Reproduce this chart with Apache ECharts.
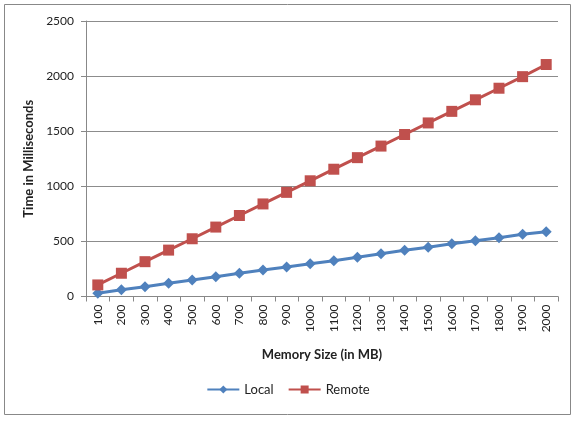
<!DOCTYPE html>
<html>
<head>
<meta charset="utf-8">
<script src="https://cdn.jsdelivr.net/npm/echarts@6/dist/echarts.min.js"></script>
<style>
  html, body { margin: 0; padding: 0; background: #fff; }
  #chart { width: 576px; height: 421px; }
</style>
</head>
<body>
<div id="chart"></div>
<script>
// memory sizes (MB)
var memorySizes = ['100','200','300','400','500','600','700','800','900','1000',
                   '1100','1200','1300','1400','1500','1600','1700','1800','1900','2000'];
// time in ms
var localTimes  = [29, 62, 89, 120, 150, 180, 210, 240, 268, 298,
                   325, 356, 388, 419, 446, 479, 506, 534, 564, 588];
var remoteTimes = [105, 211, 316, 421, 524, 630, 735, 840, 945, 1050,
                   1155, 1260, 1365, 1470, 1575, 1680, 1785, 1890, 1995, 2105];
var yTicks = [0, 500, 1000, 1500, 2000, 2500];

var font = 'Lato, "Open Sans", sans-serif';
var chart = echarts.init(document.getElementById('chart'));
var option = {
    animation: false,
    backgroundColor: '#fff',
    textStyle: { fontFamily: font },
    graphic: [{
        type: 'rect',
        shape: { x: 4.5, y: 4.5, width: 566, height: 410 },
        style: { fill: null, stroke: '#888', lineWidth: 1 },
        silent: true
    }],
    grid: { left: 86, right: 18, top: 21, bottom: 124.5 },
    legend: {
        bottom: 20,
        left: 'center',
        itemWidth: 32,
        itemHeight: 10,
        itemGap: 14,
        textStyle: { fontFamily: font, fontSize: 13, color: '#222' },
        data: ['Local', 'Remote']
    },
    xAxis: {
        type: 'category',
        data: memorySizes,
        boundaryGap: true,
        name: 'Memory Size (in MB)',
        nameLocation: 'middle',
        nameGap: 52,
        nameTextStyle: { fontFamily: font, fontSize: 13, fontWeight: 'bold', color: '#222' },
        axisLine: { lineStyle: { color: '#888' } },
        axisTick: { show: true, alignWithLabel: false, length: 5, lineStyle: { color: '#888' } },
        axisLabel: { rotate: 90, fontFamily: font, fontSize: 12, color: '#222', margin: 8 }
    },
    yAxis: {
        type: 'value',
        min: yTicks[0],
        max: yTicks[yTicks.length - 1],
        interval: 500,
        name: 'Time in Milliseconds',
        nameLocation: 'middle',
        nameGap: 50,
        nameTextStyle: { fontFamily: font, fontSize: 13, fontWeight: 'bold', color: '#222' },
        axisLine: { show: true, lineStyle: { color: '#888' } },
        axisTick: { show: true, length: 5, lineStyle: { color: '#888' } },
        axisLabel: { fontFamily: font, fontSize: 12, color: '#222', margin: 12,
                     formatter: function (v) { return String(v); } },
        splitLine: { lineStyle: { color: '#8c8c8c' } }
    },
    series: [
        {
            name: 'Local',
            type: 'line',
            data: localTimes,
            symbol: 'diamond',
            symbolSize: 11,
            lineStyle: { width: 3, color: '#4F81BD' },
            itemStyle: { color: '#4F81BD' }
        },
        {
            name: 'Remote',
            type: 'line',
            data: remoteTimes,
            symbol: 'rect',
            symbolSize: 11,
            lineStyle: { width: 3, color: '#C0504D' },
            itemStyle: { color: '#C0504D' }
        }
    ]
};
chart.setOption(option);
</script>
</body>
</html>
